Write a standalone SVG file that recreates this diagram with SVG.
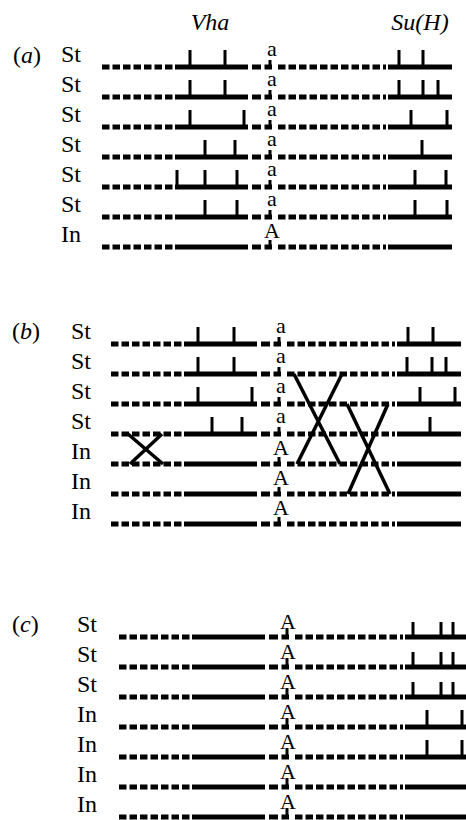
<svg xmlns="http://www.w3.org/2000/svg" xmlns:xlink="http://www.w3.org/1999/xlink" width="466" height="820" viewBox="0 0 466 820">
  <style>
    text { font-family: "Liberation Serif", "Times New Roman", Times, "DejaVu Serif", serif; fill: #000; }
    .lbl { font-size: 24px; }
    .ttl { font-size: 24px; font-style: italic; text-anchor: middle; }
    .mk { font-size: 22px; text-anchor: middle; }
    .it { font-style: italic; }
    .seg { fill: none; stroke: #000; stroke-width: 5; }
    .dash { fill: none; stroke: #000; stroke-width: 5; stroke-dasharray: 7.5 3; }
    .tick { fill: none; stroke: #000; stroke-width: 3; }
    .cross { fill: none; stroke: #000; stroke-width: 3.5; }
  </style>
  <defs>
    <!-- one chromosome arm: dashed spacer, Vha block, centromere region, dashed spacer, Su(H) block -->
    <g id="arm">
      <path class="dash" d="M102 0H173"/>
      <path class="seg" d="M175 0H248"/>
      <path class="seg" d="M252 0H261"/>
      <path class="seg" d="M264.5 0H272"/>
      <path class="dash" d="M278 0H380"/>
      <path class="seg" d="M383 0H386"/>
      <path class="seg" d="M388 0H452"/>
    </g>
  </defs>

  <!-- gene headings -->
  <text class="ttl" x="210" y="30" font-family="Liberation Serif, serif">Vha</text>
  <text class="ttl" x="420" y="30" font-family="Liberation Serif, serif">Su(H)</text>

  <!-- panel (a) -->
  <g id="panel-a">
    <text class="lbl" x="13" y="63">(<tspan class="it">a</tspan>)</text>
    <g id="a1"><use xlink:href="#arm" y="67"/><text class="lbl" x="61" y="62">St</text>
      <path class="tick" d="M270 67v-7M190 67v-17M225 67v-17M399 67v-17M423 67v-17"/><text class="mk" x="272" y="56">a</text></g>
    <g id="a2"><use xlink:href="#arm" y="97"/><text class="lbl" x="61" y="92">St</text>
      <path class="tick" d="M270 97v-7M190 97v-17M225 97v-17M399 97v-17M423 97v-17M438 97v-17"/><text class="mk" x="272" y="86">a</text></g>
    <g id="a3"><use xlink:href="#arm" y="127"/><text class="lbl" x="61" y="122">St</text>
      <path class="tick" d="M270 127v-7M190 127v-17M244 127v-17M411 127v-17M447 127v-17"/><text class="mk" x="272" y="116">a</text></g>
    <g id="a4"><use xlink:href="#arm" y="157"/><text class="lbl" x="61" y="152">St</text>
      <path class="tick" d="M270 157v-7M205 157v-17M235 157v-17M422 157v-17"/><text class="mk" x="272" y="146">a</text></g>
    <g id="a5"><use xlink:href="#arm" y="187"/><text class="lbl" x="61" y="182">St</text>
      <path class="tick" d="M270 187v-7M177 187v-17M205 187v-17M237 187v-17M415 187v-17M446 187v-17"/><text class="mk" x="272" y="176">a</text></g>
    <g id="a6"><use xlink:href="#arm" y="217"/><text class="lbl" x="61" y="212">St</text>
      <path class="tick" d="M270 217v-7M205 217v-17M237 217v-17M415 217v-17M447 217v-17"/><text class="mk" x="272" y="206">a</text></g>
    <g id="a7"><use xlink:href="#arm" y="247"/><text class="lbl" x="61" y="242">In</text>
      <path class="tick" d="M270 247v-7"/><text class="mk" x="272" y="238">A</text></g>
  </g>

  <!-- panel (b) -->
  <g id="panel-b">
    <text class="lbl" x="12" y="339">(<tspan class="it">b</tspan>)</text>
    <g id="b1"><use xlink:href="#arm" x="9" y="344"/><text class="lbl" x="71" y="339">St</text>
      <path class="tick" d="M279 344v-7M198 344v-17M234 344v-17M408 344v-17M433 344v-17"/><text class="mk" x="281" y="333">a</text></g>
    <g id="b2"><use xlink:href="#arm" x="9" y="374"/><text class="lbl" x="71" y="369">St</text>
      <path class="tick" d="M279 374v-7M198 374v-17M234 374v-17M407 374v-17M432 374v-17M446 374v-17"/><text class="mk" x="281" y="363">a</text></g>
    <g id="b3"><use xlink:href="#arm" x="9" y="404"/><text class="lbl" x="71" y="399">St</text>
      <path class="tick" d="M279 404v-7M198 404v-17M252 404v-17M420 404v-17M455 404v-17"/><text class="mk" x="281" y="393">a</text></g>
    <g id="b4"><use xlink:href="#arm" x="9" y="434"/><text class="lbl" x="71" y="429">St</text>
      <path class="tick" d="M279 434v-7M212 434v-17M242 434v-17M430 434v-17"/><text class="mk" x="281" y="423">a</text></g>
    <g id="b5"><use xlink:href="#arm" x="9" y="464"/><text class="lbl" x="71" y="459">In</text>
      <path class="tick" d="M279 464v-7"/><text class="mk" x="281" y="455">A</text></g>
    <g id="b6"><use xlink:href="#arm" x="9" y="494"/><text class="lbl" x="71" y="489">In</text>
      <path class="tick" d="M279 494v-7"/><text class="mk" x="281" y="485">A</text></g>
    <g id="b7"><use xlink:href="#arm" x="9" y="524"/><text class="lbl" x="71" y="519">In</text>
      <path class="tick" d="M279 524v-7"/><text class="mk" x="281" y="515">A</text></g>
  </g>

  <!-- crossover exchanges between strands -->
  <g id="crossovers">
    <path class="cross" d="M128 434L163 464M162 434L130 464"/>
    <path class="cross" d="M294 374L340 464M342 374L297 464"/>
    <path class="cross" d="M347 404L390 494M388 404L348 494"/>
  </g>

  <!-- panel (c) -->
  <g id="panel-c">
    <text class="lbl" x="12" y="632">(<tspan class="it">c</tspan>)</text>
    <g id="c1"><use xlink:href="#arm" x="17" y="637"/><text class="lbl" x="77" y="632">St</text>
      <path class="tick" d="M287 639v-11M413 637v-15M441 637v-15M453 637v-15"/><text class="mk" x="288" y="629">A</text></g>
    <g id="c2"><use xlink:href="#arm" x="17" y="667"/><text class="lbl" x="77" y="662">St</text>
      <path class="tick" d="M287 669v-11M413 667v-15M441 667v-15M453 667v-15"/><text class="mk" x="288" y="659">A</text></g>
    <g id="c3"><use xlink:href="#arm" x="17" y="697"/><text class="lbl" x="77" y="692">St</text>
      <path class="tick" d="M287 699v-11M413 697v-15M441 697v-15M453 697v-15"/><text class="mk" x="288" y="689">A</text></g>
    <g id="c4"><use xlink:href="#arm" x="17" y="727"/><text class="lbl" x="77" y="722">In</text>
      <path class="tick" d="M287 729v-11M427 727v-17M462 727v-17"/><text class="mk" x="288" y="719">A</text></g>
    <g id="c5"><use xlink:href="#arm" x="17" y="757"/><text class="lbl" x="77" y="752">In</text>
      <path class="tick" d="M287 759v-11M427 757v-17M462 757v-17"/><text class="mk" x="288" y="749">A</text></g>
    <g id="c6"><use xlink:href="#arm" x="17" y="787"/><text class="lbl" x="77" y="782">In</text>
      <path class="tick" d="M287 789v-11"/><text class="mk" x="288" y="779">A</text></g>
    <g id="c7"><use xlink:href="#arm" x="17" y="817"/><text class="lbl" x="77" y="812">In</text>
      <path class="tick" d="M287 819v-11"/><text class="mk" x="288" y="809">A</text></g>
  </g>
</svg>
